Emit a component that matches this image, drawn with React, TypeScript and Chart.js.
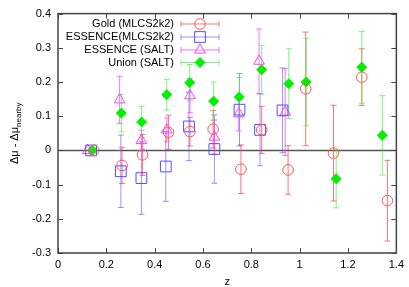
import React, { useEffect, useRef } from "react";
import { Chart, registerables } from "chart.js";
Chart.register(...registerables);

// ---- data ----
const goldZ = [0.148, 0.265, 0.35, 0.457, 0.546, 0.642, 0.757, 0.843, 0.952, 1.025, 1.14, 1.257, 1.363];
const goldV = [0, -0.044, -0.013, 0.053, 0.055, 0.062, -0.055, 0.06, -0.057, 0.18, -0.008, 0.214, -0.147];
const goldE = [0, 0.053, 0.06, 0.05, 0.042, 0.055, 0.071, 0.069, 0.071, 0.166, 0.14, 0.083, 0.118];

const essZ = [0.137, 0.26, 0.345, 0.446, 0.542, 0.647, 0.751, 0.836, 0.929];
const essV = [0, -0.061, -0.081, -0.047, 0.07, 0.004, 0.119, 0.06, 0.117];
const essE = [0, 0.106, 0.106, 0.102, 0.1, 0.1, 0.106, 0.105, 0.124];

const saltZ = [0.123, 0.255, 0.345, 0.45, 0.546, 0.647, 0.748, 0.832, 0.94];
const saltV = [0, 0.148, 0.029, 0.06, 0.16, 0.039, 0.107, 0.261, 0.112];
const saltE = [0, 0.069, 0.03, 0.035, 0.05, 0.05, 0.05, 0.094, 0.127];

const unionZ = [0.142, 0.262, 0.346, 0.45, 0.545, 0.644, 0.75, 0.843, 0.955, 1.027, 1.151, 1.257, 1.342];
const unionV = [0, 0.109, 0.083, 0.163, 0.198, 0.144, 0.156, 0.236, 0.195, 0.2, -0.083, 0.243, 0.044];
const unionE = [0, 0.055, 0.046, 0.045, 0.053, 0.056, 0.057, 0.071, 0.102, 0.128, 0.085, 0.105, 0.116];

const xTicks = [0, 0.2, 0.4, 0.6, 0.8, 1, 1.2, 1.4];
const yTicks = [-0.3, -0.2, -0.1, 0, 0.1, 0.2, 0.3, 0.4];

const labels = ["Gold (MLCS2k2)", "ESSENCE(MLCS2k2)", "ESSENCE (SALT)", "Union (SALT)"];

const FONT = "'Liberation Sans', Arial, Helvetica, sans-serif";

type Series = {
  z: number[]; v: number[]; e: number[];
  color: string; bar: string; fill: string; style: string; radius: number; label: string;
};

const series: Series[] = [
  { z: goldZ, v: goldV, e: goldE, color: "#ff5555", bar: "rgba(255,70,70,0.75)", fill: "rgba(0,0,0,0)", style: "circle", radius: 5.3, label: labels[0] },
  { z: essZ, v: essV, e: essE, color: "#5050ff", bar: "rgba(80,80,255,0.6)", fill: "rgba(0,0,0,0)", style: "rect", radius: 7.6, label: labels[1] },
  { z: saltZ, v: saltV, e: saltE, color: "#ff40ff", bar: "rgba(255,64,255,0.75)", fill: "rgba(0,0,0,0)", style: "triangle", radius: 6.2, label: labels[2] },
  { z: unionZ, v: unionV, e: unionE, color: "#00f000", bar: "rgba(70,240,70,0.7)", fill: "#00f000", style: "rectRot", radius: 5, label: labels[3] },
];

const CAP = 3;

const drawMarker = (ctx: CanvasRenderingContext2D, s: Series, x: number, y: number) => {
  ctx.save();
  ctx.strokeStyle = s.color;
  ctx.fillStyle = s.fill;
  ctx.lineWidth = 1;
  ctx.beginPath();
  const r = s.radius;
  if (s.style === "circle") {
    ctx.arc(x, y, r, 0, Math.PI * 2);
  } else if (s.style === "rect") {
    const h = r * Math.SQRT1_2;
    ctx.rect(x - h, y - h, 2 * h, 2 * h);
  } else if (s.style === "triangle") {
    ctx.moveTo(x, y - r);
    ctx.lineTo(x + r * 0.866, y + r * 0.5);
    ctx.lineTo(x - r * 0.866, y + r * 0.5);
    ctx.closePath();
  } else {
    ctx.moveTo(x, y - r);
    ctx.lineTo(x + r, y);
    ctx.lineTo(x, y + r);
    ctx.lineTo(x - r, y);
    ctx.closePath();
  }
  if (s.style === "rectRot") ctx.fill();
  ctx.stroke();
  ctx.restore();
};

const plugin = {
  id: "custom",
  beforeDatasetsDraw(chart: any) {
    const { ctx, chartArea, scales } = chart;
    const { left, right } = chartArea;
    const xs = scales.x, ys = scales.y;
    ctx.save();
    // zero line
    const y0 = ys.getPixelForValue(0);
    ctx.strokeStyle = "#555";
    ctx.lineWidth = 1.5;
    ctx.beginPath();
    ctx.moveTo(left, y0);
    ctx.lineTo(right, y0);
    ctx.stroke();
    // error bars
    ctx.lineWidth = 1;
    series.forEach((s) => {
      ctx.strokeStyle = s.bar;
      s.z.forEach((z, i) => {
        if (!s.e[i]) return;
        const xp = xs.getPixelForValue(z);
        const yt = ys.getPixelForValue(s.v[i] + s.e[i]);
        const yb = ys.getPixelForValue(s.v[i] - s.e[i]);
        ctx.beginPath();
        ctx.moveTo(xp, yt);
        ctx.lineTo(xp, yb);
        ctx.moveTo(xp - CAP, yt);
        ctx.lineTo(xp + CAP, yt);
        ctx.moveTo(xp - CAP, yb);
        ctx.lineTo(xp + CAP, yb);
        ctx.stroke();
      });
    });
    ctx.restore();
  },
  afterDraw(chart: any) {
    const { ctx, chartArea, scales } = chart;
    const { left, right, top, bottom } = chartArea;
    const xs = scales.x, ys = scales.y;
    ctx.save();
    // frame
    ctx.strokeStyle = "#444";
    ctx.lineWidth = 1.5;
    ctx.strokeRect(left, top, right - left, bottom - top);
    // inward ticks
    ctx.lineWidth = 1;
    const T = 5;
    ctx.beginPath();
    xTicks.forEach((t) => {
      const xp = Math.round(xs.getPixelForValue(t)) + 0.5;
      ctx.moveTo(xp, bottom);
      ctx.lineTo(xp, bottom - T);
      ctx.moveTo(xp, top);
      ctx.lineTo(xp, top + T);
    });
    yTicks.forEach((t) => {
      const yp = Math.round(ys.getPixelForValue(t)) + 0.5;
      ctx.moveTo(left, yp);
      ctx.lineTo(left + T, yp);
      ctx.moveTo(right, yp);
      ctx.lineTo(right - T, yp);
    });
    ctx.stroke();

    // legend
    const lx = 174, sx0 = 181, sx1 = 219, mx = 200;
    const rows = [24, 37, 50, 62.5];
    series.forEach((s, i) => {
      const ry = rows[i];
      ctx.fillStyle = "#000";
      ctx.font = `11px ${FONT}`;
      ctx.textAlign = "right";
      ctx.textBaseline = "middle";
      ctx.fillText(s.label, lx, ry);
      ctx.strokeStyle = s.bar;
      ctx.lineWidth = 1;
      ctx.beginPath();
      ctx.moveTo(sx0, ry);
      ctx.lineTo(sx1, ry);
      ctx.moveTo(sx0, ry - CAP);
      ctx.lineTo(sx0, ry + CAP);
      ctx.moveTo(sx1, ry - CAP);
      ctx.lineTo(sx1, ry + CAP);
      ctx.stroke();
      drawMarker(ctx, s, mx, ry);
    });

    // x title
    ctx.fillStyle = "#000";
    ctx.font = `11px ${FONT}`;
    ctx.textAlign = "center";
    ctx.textBaseline = "alphabetic";
    ctx.fillText("z", (left + right) / 2, 285);

    // y title
    ctx.save();
    ctx.translate(18, (top + bottom) / 2);
    ctx.rotate(-Math.PI / 2);
    const main = "\u0394\u03bc - \u0394\u03bc";
    const sub = "nearby";
    ctx.font = `11px ${FONT}`;
    const wMain = ctx.measureText(main).width;
    ctx.font = `8px ${FONT}`;
    const wSub = ctx.measureText(sub).width;
    const total = wMain + wSub;
    ctx.textAlign = "left";
    ctx.textBaseline = "alphabetic";
    ctx.font = `11px ${FONT}`;
    ctx.fillText(main, -total / 2, 0);
    ctx.font = `8px ${FONT}`;
    ctx.fillText(sub, -total / 2 + wMain, 3);
    ctx.restore();

    ctx.restore();
  },
};

export default function App() {
  const ref = useRef<HTMLCanvasElement>(null);
  useEffect(() => {
    const canvas = ref.current;
    if (!canvas) return;
    const chart = new Chart(canvas, {
      type: "scatter",
      data: {
        datasets: series.map((s) => ({
          label: s.label,
          data: s.z.map((z, i) => ({ x: z, y: s.v[i] })),
          pointStyle: s.style as any,
          pointRadius: s.radius,
          pointHoverRadius: s.radius,
          borderColor: s.color,
          backgroundColor: s.fill,
          pointBorderWidth: 1,
          showLine: false,
        })),
      },
      options: {
        responsive: false,
        animation: false,
        devicePixelRatio: 1,
        layout: { padding: { top: 13, right: 10, left: 0, bottom: 0 } },
        plugins: { legend: { display: false }, tooltip: { enabled: false } },
        events: [],
        scales: {
          x: {
            type: "linear",
            min: 0,
            max: 1.4,
            afterFit: (scale: any) => { scale.height = 34; },
            afterBuildTicks: (scale: any) => { scale.ticks = xTicks.map((v) => ({ value: v })); },
            grid: { display: false, drawTicks: false },
            border: { display: false },
            ticks: {
              padding: 5,
              color: "#000",
              font: { size: 11, family: FONT },
              callback: (v: any) => String(Number(Number(v).toFixed(1))),
              maxRotation: 0,
            },
          },
          y: {
            type: "linear",
            min: -0.3,
            max: 0.4,
            afterFit: (scale: any) => { scale.width = 58; },
            afterBuildTicks: (scale: any) => { scale.ticks = yTicks.map((v) => ({ value: v })); },
            grid: { display: false, drawTicks: false },
            border: { display: false },
            ticks: {
              padding: 7,
              color: "#000",
              font: { size: 11, family: FONT },
              callback: (v: any) => {
                const n = Number(Number(v).toFixed(1));
                return n === 0 ? "0" : n.toFixed(1);
              },
            },
          },
        },
      },
      plugins: [plugin],
    });
    return () => chart.destroy();
  }, []);
  return (
    <div style={{ position: "absolute", left: 0, top: 0, width: 409, height: 287, background: "#fff" }}>
      <canvas ref={ref} width={409} height={287} style={{ width: 409, height: 287, display: "block" }} />
    </div>
  );
}
